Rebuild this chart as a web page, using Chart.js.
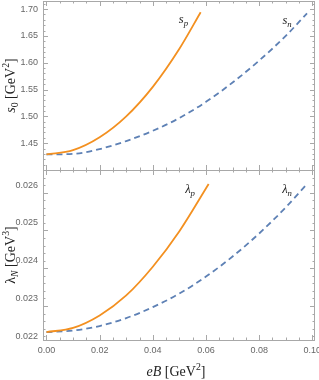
<!DOCTYPE html>
<html>
<head>
<meta charset="utf-8">
<script src="https://cdn.jsdelivr.net/npm/chart.js@4.4.0/dist/chart.umd.min.js"></script>
<style>
  body { margin: 0; background: #fff; }
  #wrap { position: relative; width: 319px; height: 380px; }
  #topBox { position: absolute; left: 0; top: 0; width: 319px; height: 171px; }
  #botBox { position: absolute; left: 0; top: 170px; width: 319px; height: 210px; }
</style>
</head>
<body>
<div id="wrap">
  <div id="topBox"><canvas id="topChart"></canvas></div>
  <div id="botBox"><canvas id="botChart"></canvas></div>
</div>
<script>
// values
const sP = [[0, 1.429], [0.01, 1.437], [0.02, 1.461], [0.03, 1.500], [0.04, 1.555], [0.05, 1.626], [0.058, 1.694]];
const sN = [[0, 1.429], [0.01, 1.430], [0.02, 1.439], [0.03, 1.454], [0.04, 1.473], [0.05, 1.497], [0.06, 1.527],
            [0.07, 1.563], [0.08, 1.604], [0.09, 1.650], [0.098, 1.692]];
const lamP = [[0, 0.02211], [0.01, 0.02222], [0.02, 0.02255], [0.03, 0.02308], [0.04, 0.02384], [0.05, 0.02478], [0.061, 0.02603]];
const lamN = [[0, 0.02211], [0.01, 0.02215], [0.02, 0.02227], [0.03, 0.02248], [0.04, 0.02277], [0.05, 0.02313],
              [0.06, 0.02358], [0.07, 0.02411], [0.08, 0.02472], [0.09, 0.02541], [0.098, 0.02603]];

const xTicks = [0, 0.02, 0.04, 0.06, 0.08, 0.10];
const sTicks = [1.45, 1.50, 1.55, 1.60, 1.65, 1.70];
const lamTicks = [0.022, 0.023, 0.024, 0.025, 0.026];

const ORANGE = '#f39020';
const BLUE = '#5e81b5';
const FRAME = '#a8a8a8';
const SERIF = '"Liberation Serif", "DejaVu Serif", serif';

const toXY = arr => arr.map(p => ({ x: p[0], y: p[1] }));

// rich text: parts = [text, italic, 'sub'|'sup'|null]
function drawRich(ctx, parts, x, y, size, rotate, align) {
  ctx.save();
  ctx.translate(x, y);
  if (rotate) ctx.rotate(-Math.PI / 2);
  ctx.fillStyle = '#222';
  ctx.textBaseline = 'alphabetic';
  const fontFor = p => (p[1] ? 'italic ' : '') + (p[2] ? size * 0.7 : size) + 'px ' + SERIF;
  let w = 0;
  parts.forEach(p => { ctx.font = fontFor(p); w += ctx.measureText(p[0]).width; });
  let cx = align === 'left' ? 0 : -w / 2;
  parts.forEach(p => {
    ctx.font = fontFor(p);
    const dy = p[2] === 'sub' ? size * 0.25 : p[2] === 'sup' ? -size * 0.4 : 0;
    ctx.fillText(p[0], cx, size * 0.35 + dy);
    cx += ctx.measureText(p[0]).width;
  });
  ctx.restore();
}

function framePlugin(opts) {
  return {
    id: 'frame',
    afterDatasetsDraw(chart) {
      const { ctx, chartArea: a, scales } = chart;
      ctx.save();
      ctx.strokeStyle = FRAME;
      ctx.lineWidth = 1;
      ctx.strokeRect(a.left + 0.5, a.top + 0.5, a.right - a.left - 1, a.bottom - a.top);
      const tick = (x1, y1, x2, y2) => { ctx.beginPath(); ctx.moveTo(x1, y1); ctx.lineTo(x2, y2); ctx.stroke(); };
      // x ticks, inward, bottom and top
      for (let i = 0; i <= 20; i++) {
        const v = i * 0.005;
        const px = Math.round(scales.x.getPixelForValue(v)) + 0.5;
        const len = i % 4 === 0 ? 5 : 2.5;
        tick(px, a.bottom, px, a.bottom - len);
        tick(px, a.top, px, a.top + len);
      }
      // y ticks, inward, left and right
      const n = Math.round((opts.yMax - opts.yStart) / opts.minor);
      for (let i = 0; i <= n; i++) {
        const v = opts.yStart + i * opts.minor;
        const py = Math.round(scales.y.getPixelForValue(v)) + 0.5;
        if (py < a.top || py > a.bottom) continue;
        const len = i % opts.every === 0 ? 5 : 2.5;
        tick(a.left, py, a.left + len, py);
        tick(a.right, py, a.right - len, py);
      }
      ctx.restore();
      // curve labels
      opts.labels.forEach(l => {
        drawRich(ctx, l.parts, scales.x.getPixelForValue(l.x), scales.y.getPixelForValue(l.y), 12.5, false, 'center');
      });
      // y title
      drawRich(ctx, opts.yTitle, 10, (a.top + a.bottom) / 2, 14, true, 'center');
      if (opts.xTitle) drawRich(ctx, opts.xTitle, (a.left + a.right) / 2 - 3, chart.height - 9, 14, false, 'center');
    }
  };
}

function makeChart(id, d1, d2, yMin, yMax, yTickVals, decimals, showX, pad, plug) {
  return new Chart(document.getElementById(id), {
    type: 'line',
    data: {
      datasets: [
        { data: toXY(d1), borderColor: ORANGE, borderWidth: 1.8, pointRadius: 0, cubicInterpolationMode: 'monotone', fill: false },
        { data: toXY(d2), borderColor: BLUE, borderWidth: 1.8, borderDash: [6, 4], pointRadius: 0, cubicInterpolationMode: 'monotone', fill: false }
      ]
    },
    options: {
      responsive: true,
      maintainAspectRatio: false,
      animation: false,
      layout: { padding: pad },
      plugins: { legend: { display: false }, tooltip: { enabled: false } },
      scales: {
        x: {
          type: 'linear', min: -0.0013, max: 0.101,
          display: showX,
          grid: { display: false, drawTicks: false },
          border: { display: false },
          afterBuildTicks: s => { s.ticks = xTicks.map(v => ({ value: v })); },
          afterFit: s => { s.height = showX ? 40 : 0; s.paddingLeft = 0; s.paddingRight = 0; },
          ticks: { padding: 5, color: '#666', font: { family: 'Liberation Sans', size: 9 },
                   callback: v => v.toFixed(2) }
        },
        y: {
          type: 'linear', min: yMin, max: yMax,
          grid: { display: false, drawTicks: false },
          border: { display: false },
          afterBuildTicks: s => { s.ticks = yTickVals.map(v => ({ value: v })); },
          afterFit: s => { s.width = 43; s.paddingTop = 0; s.paddingBottom = 0; },
          ticks: { padding: 5, color: '#666', font: { family: 'Liberation Sans', size: 9 },
                   callback: v => v.toFixed(decimals) }
        }
      }
    },
    plugins: [plug]
  });
}

makeChart('topChart', sP, sN, 1.40, 1.715, sTicks, 2, false, { top: 1, right: 4, bottom: 1, left: 0 },
  framePlugin({
    yStart: 1.40, yMax: 1.715, minor: 0.01, every: 5,
    labels: [
      { x: 0.0515, y: 1.683, parts: [['s', true, null], ['p', true, 'sub']] },
      { x: 0.0905, y: 1.680, parts: [['s', true, null], ['n', true, 'sub']] }
    ],
    yTitle: [['s', true, null], ['0', false, 'sub'], [' [GeV', false, null], ['2', false, 'sup'], [']', false, null]]
  }));

makeChart('botChart', lamP, lamN, 0.0219, 0.0264, lamTicks, 3, true, { top: 0, right: 4, bottom: 0, left: 0 },
  framePlugin({
    yStart: 0.0218, yMax: 0.0264, minor: 0.0002, every: 5,
    labels: [
      { x: 0.054, y: 0.02592, parts: [['λ', true, null], ['p', true, 'sub']] },
      { x: 0.0905, y: 0.02592, parts: [['λ', true, null], ['n', true, 'sub']] }
    ],
    yTitle: [['λ', false, null], ['N', true, 'sub'], [' [GeV', false, null], ['3', false, 'sup'], [']', false, null]],
    xTitle: [['eB', true, null], [' [GeV', false, null], ['2', false, 'sup'], [']', false, null]]
  }));
</script>
</body>
</html>
